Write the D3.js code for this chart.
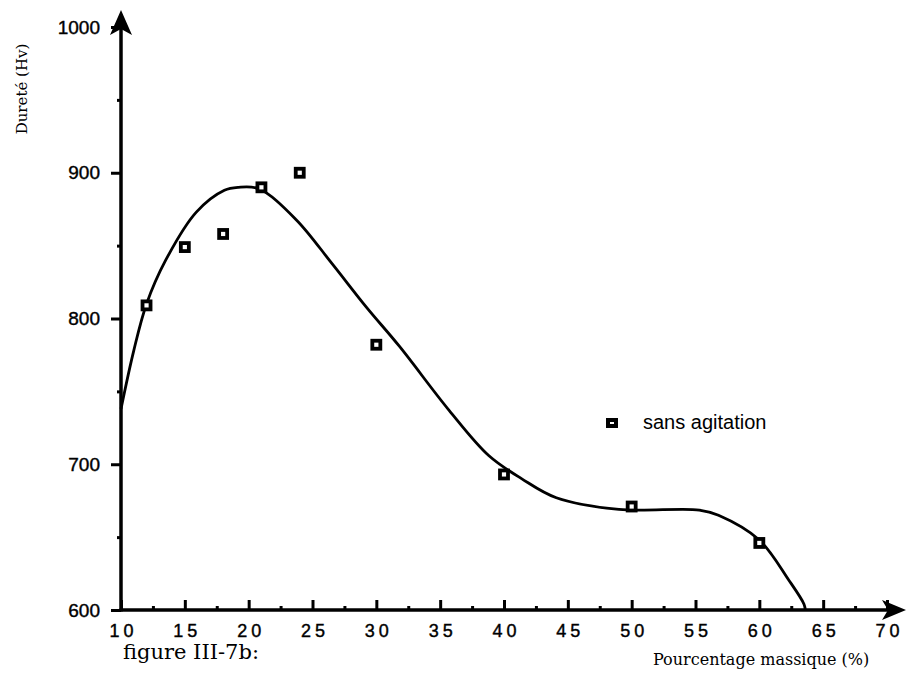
<!DOCTYPE html>
<html>
<head>
<meta charset="utf-8">
<script src="https://cdn.jsdelivr.net/npm/d3@7/dist/d3.min.js"></script>
<style>
  html, body { margin: 0; padding: 0; background: #fff; }
  svg { display: block; }
</style>
</head>
<body>
<svg id="chart" width="909" height="675"></svg>
<script>
// ---- data ----
const pointX = [12, 15, 18, 21, 24, 30, 40, 50, 60];
const pointY = [809, 849, 858, 890, 900, 782, 693, 671, 646];

const curveX = [10, 11.0, 12.0, 13.5, 15.9, 18.1, 19.2, 20.8, 23.7, 26.5, 29.2, 31.8, 35.7, 38.8, 41.4, 44.1, 49.0, 55.3, 56.8, 60.0, 62.3, 63.5, 63.6];
const curveY = [738, 778, 810, 840, 873, 888, 890, 889, 868, 838, 808, 781, 737, 706, 690, 677, 669, 668.6, 665, 648, 620.6, 604, 600];

const xMajorTicks = [10, 15, 20, 25, 30, 35, 40, 45, 50, 55, 60, 65, 70];
const xMinorTicks = [12.5, 17.5, 22.5, 27.5, 32.5, 37.5, 42.5, 47.5, 52.5, 57.5, 62.5, 67.5];
const yMajorTicks = [600, 700, 800, 900, 1000];
const yMinorTicks = [650, 750, 850, 950];

const xTitle = "Pourcentage massique (%)";
const yTitle = "Dureté (Hv)";
const legendLabel = "sans agitation";
const figureCaption = "figure III-7b:";

// ---- scales ----
const x = d3.scaleLinear().domain([10, 70]).range([121, 887]);
const y = d3.scaleLinear().domain([600, 1000]).range([610, 27]);

const svg = d3.select("#chart");
const sans = "'Liberation Sans', Arial, Helvetica, sans-serif";
const serif = "'DejaVu Serif', 'Liberation Serif', serif";

// ---- axes ----
const yAxisMajor = d3.axisLeft(y).tickValues(yMajorTicks).tickFormat(d3.format("d"))
  .tickSize(10).tickPadding(11).tickSizeOuter(0);
const yAxisMinor = d3.axisLeft(y).tickValues(yMinorTicks).tickSize(4).tickFormat("").tickSizeOuter(0);
const xAxisMajor = d3.axisBottom(x).tickValues(xMajorTicks).tickFormat(d3.format("d"))
  .tickSize(-10).tickPadding(14).tickSizeOuter(0);
const xAxisMinor = d3.axisBottom(x).tickValues(xMinorTicks).tickSize(-4).tickFormat("").tickSizeOuter(0);

function styleAxis(g) {
  g.select(".domain").remove();
  g.selectAll(".tick line").attr("stroke", "#000").attr("stroke-width", 3);
}

const gy = svg.append("g").attr("transform", `translate(${x(10)},0)`);
gy.append("g").call(yAxisMajor).call(styleAxis)
  .selectAll("text").attr("font-family", sans).attr("font-size", 19).attr("fill", "#000")
  .attr("stroke", "#000").attr("stroke-width", 0.4);
gy.append("g").call(yAxisMinor).call(styleAxis);

const gx = svg.append("g").attr("transform", `translate(0,${y(600)})`);
gx.append("g").call(xAxisMajor).call(styleAxis)
  .selectAll("text").attr("font-family", sans).attr("font-size", 18)
  .attr("letter-spacing", "4px").attr("dx", "2px").attr("fill", "#000")
  .attr("stroke", "#000").attr("stroke-width", 0.4);
gx.append("g").call(xAxisMinor).call(styleAxis);

// axis lines with arrows
const x0 = x(10), y0 = y(600);
const yTip = y(1000) - 17, xTip = x(70) + 19;
svg.append("line").attr("x1", x0).attr("y1", y0 + 1.5).attr("x2", x0).attr("y2", yTip + 10)
  .attr("stroke", "#000").attr("stroke-width", 3.5);
svg.append("line").attr("x1", x0 - 1.5).attr("y1", y0).attr("x2", xTip - 10).attr("y2", y0)
  .attr("stroke", "#000").attr("stroke-width", 3.5);
svg.append("path")
  .attr("d", `M${x0},${yTip} L${x0 - 11},${yTip + 25} L${x0},${yTip + 19} L${x0 + 11},${yTip + 25} Z`)
  .attr("fill", "#000");
svg.append("path")
  .attr("d", `M${xTip},${y0} L${xTip - 24},${y0 - 10} L${xTip - 18},${y0} L${xTip - 24},${y0 + 10} Z`)
  .attr("fill", "#000");

// ---- curve ----
const curveData = curveX.map((d, i) => [d, curveY[i]]);
const line = d3.line().x(d => x(d[0])).y(d => y(d[1])).curve(d3.curveCatmullRom.alpha(0.5));
svg.append("path").datum(curveData).attr("d", line)
  .attr("fill", "none").attr("stroke", "#000").attr("stroke-width", 2.8);

// ---- points ----
const pts = pointX.map((d, i) => [d, pointY[i]]);
svg.append("g").selectAll("rect").data(pts).join("rect")
  .attr("x", d => x(d[0]) - 4).attr("y", d => y(d[1]) - 4)
  .attr("width", 8).attr("height", 8)
  .attr("fill", "#fff").attr("stroke", "#000").attr("stroke-width", 3.8);

// ---- legend ----
const lg = svg.append("g").attr("transform", "translate(612,423)");
lg.append("rect").attr("x", -4).attr("y", -3).attr("width", 8).attr("height", 6)
  .attr("fill", "#fff").attr("stroke", "#000").attr("stroke-width", 4);
lg.append("text").attr("x", 31).attr("y", 6).text(legendLabel)
  .attr("font-family", sans).attr("font-size", 20).attr("fill", "#000");

// ---- titles ----
svg.append("text").attr("transform", "translate(27,89) rotate(-90)")
  .attr("text-anchor", "middle").attr("font-family", serif).attr("font-size", 15)
  .attr("fill", "#000").text(yTitle);
svg.append("text").attr("x", 653).attr("y", 665)
  .attr("font-family", serif).attr("font-size", 16).attr("fill", "#000").text(xTitle);
svg.append("text").attr("x", 123).attr("y", 659)
  .attr("font-family", serif).attr("font-size", 21).attr("fill", "#000").text(figureCaption);
</script>
</body>
</html>
